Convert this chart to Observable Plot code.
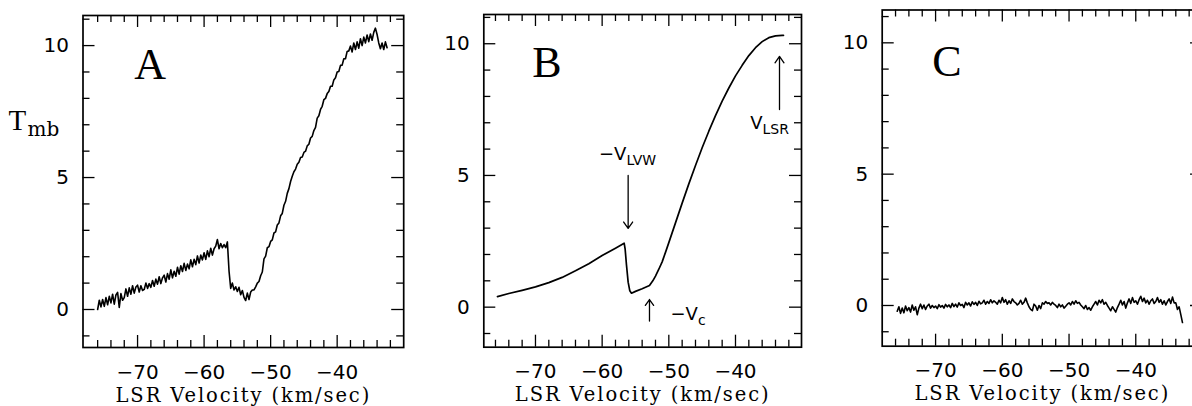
<!DOCTYPE html>
<html><head><meta charset="utf-8">
<script src="https://cdn.jsdelivr.net/npm/d3@7"></script>
<script src="https://cdn.jsdelivr.net/npm/@observablehq/plot@0.6"></script>
<style>
html,body{margin:0;padding:0;background:#fff;}
#wrap{position:relative;width:1192px;height:406px;overflow:hidden;background:#fff;}
</style></head><body><div id="wrap"></div>
<script>
// ---------------- DATA ----------------
// Panel A: observed spectrum, channels every 0.25 km/s starting at -76.0
const obsStartA = -76.0;
const obsStepA = 0.25;
const tmbA = [
  0.00,0.35,0.10,0.38, 0.12,0.45,0.18,0.50, 0.25,0.58,0.20,0.55, 0.65,0.08,0.60,0.35,
  0.45,0.78,0.50,0.82, 0.58,0.90,0.62,0.85, 0.92,0.66,0.90,0.72, 0.76,1.00,0.80,0.98,
  0.84,1.10,0.88,1.15, 0.96,1.24,0.98,1.20, 1.30,1.04,1.36,1.15, 1.50,1.20,1.45,1.26,
  1.60,1.34,1.66,1.44, 1.75,1.48,1.72,1.54, 1.88,1.62,1.90,1.70, 2.03,1.76,2.06,1.88,
  2.15,1.90,2.22,2.00, 2.32,2.06,2.30,2.40, 2.65,2.30,2.50,2.34, 2.46,2.34,2.56,1.45,
  0.80,1.00,0.74,0.86, 0.68,0.84,0.56,0.72, 0.46,0.34,0.62,0.38, 0.66,0.74,0.74,0.86,
  1.00,1.06,1.28,1.42, 1.92,2.02,2.34,2.38, 2.58,2.64,2.90,2.94, 3.20,3.28,3.55,3.64,
  3.95,4.10,4.40,4.58, 4.85,5.05,5.22,5.32, 5.50,5.58,5.76,5.78, 5.95,6.00,6.20,6.26,
  6.50,6.56,6.78,6.90, 7.25,7.34,7.58,7.70, 7.95,8.00,8.18,8.26, 8.46,8.46,8.70,8.78,
  9.00,9.02,9.25,9.26, 9.50,9.50,9.78,9.80, 9.98,9.76,10.10,9.85, 10.14,9.90,10.26,10.00,
  10.32,10.10,10.40,10.15, 10.44,10.20,10.50,10.66, 10.42,10.10,9.88,10.10, 9.85,10.14,9.92
];

// Panel B: model spectrum (velocity, Tmb)
const modelVel = [-75.7,-74,-72,-70,-68,-66,-64,-62,-60,-58,-56.7,-56.55,-56.35,-56.1,-55.85,-55.6,-55,-54,-52.9,
  -52.4,-52,-51.5,-51,-50.5,-50,-49,-48,-47,-46,-45,-44,-43,-42,-41,-40,-39,-38,-37,-36,-35,-34,-33,-32.8];
const modelTmb = [0.40,0.52,0.64,0.77,0.93,1.13,1.38,1.65,1.96,2.24,2.43,2.20,1.60,0.95,0.62,0.53,0.60,0.70,0.82,
  1.00,1.18,1.44,1.72,2.08,2.45,3.20,3.95,4.68,5.38,6.05,6.68,7.27,7.82,8.32,8.78,9.18,9.55,9.85,10.08,10.23,10.30,10.32,10.32];

// Panel C: residual spectrum, channels every 0.25 km/s starting at -75.75
const obsStartC = -75.75;
const obsStepC = 0.25;
const tmbC = [
  -0.22,-0.05,-0.30, -0.10,-0.28,-0.02,-0.20, -0.08,-0.25,0.02,-0.18, -0.05,-0.35,-0.10,0.05,
  -0.12,0.02,-0.15,-0.02, 0.05,-0.10,0.00,-0.08, -0.02,-0.12,0.03,-0.06, 0.00,-0.10,0.04,-0.05,
  0.02,-0.08,0.08,-0.04, 0.05,-0.06,0.10,0.00, 0.04,-0.08,0.12,0.02, 0.10,-0.02,0.14,0.04,
  0.12,0.00,0.16,0.06, 0.10,0.20,0.05,0.15, 0.08,0.22,0.10,0.18, 0.12,0.05,0.20,0.10,
  0.30,0.12,0.22,0.05, 0.18,0.08,0.25,0.15, 0.10,0.02,0.08,0.20, 0.05,0.12,0.28,0.10,
  -0.05,-0.15,-0.20,0.05, -0.02,-0.18,0.00,-0.12, 0.10,0.05,0.15,0.08, 0.10,0.02,0.12,0.05,
  0.00,-0.08,0.05,-0.05, 0.02,-0.10,-0.03,0.05, 0.10,0.02,0.15,0.05, 0.18,0.08,0.12,0.02,
  -0.05,-0.12,0.00,-0.15, -0.08,-0.18,-0.05,0.05, 0.15,0.02,0.20,0.10, 0.22,0.05,0.12,0.00,
  -0.10,-0.20,-0.05,-0.15, -0.25,-0.08,0.05,0.20, 0.02,0.15,-0.10,0.10, 0.25,0.08,0.30,0.12,
  0.18,0.05,0.22,0.35, 0.15,0.28,0.10,0.20, 0.05,0.18,0.25,0.08, 0.15,0.30,0.12,0.22,
  0.05,0.18,0.02,0.15, 0.25,0.08,0.32,0.10, 0.10,-0.15,-0.05,-0.35, -0.65
];

const panelLetters = ["A", "B", "C"];
const xMajorTicks = [-70, -60, -50, -40];
const xMinorTicks = [-76,-74,-72,-68,-66,-64,-62,-58,-56,-54,-52,-48,-46,-44,-42,-38,-36,-34,-32];
const yMajorTicks = [0, 5, 10];
const yMinorTicks = [-1,1,2,3,4,6,7,8,9,11];
const xTitle = "LSR Velocity (km/sec)";
const yTitleMain = "T";
const yTitleSub = "mb";

// annotations of panel B
const arrowX = [-56.1, -33.4, -52.9];
const arrowFrom = [5.0, 7.5, -0.53];
const arrowTo = [2.99, 9.52, 0.29];
const noteMain = ["−V", "V", "−V"];
const noteSub = ["LVW", "LSR", "c"];
const noteX = [-56.36, -35.95, -45.64];
const noteY = [5.6, 6.78, -0.47];

// ---------------- BUILD ----------------
const obsA = tmbA.map((t, i) => ({v: obsStartA + i * obsStepA, t}));
const modB = modelVel.map((v, i) => ({v, t: modelTmb[i]}));
const obsC = tmbC.map((t, i) => ({v: obsStartC + i * obsStepC, t}));
const arrowsB = arrowX.map((x, i) => ({x, y1: arrowFrom[i], y2: arrowTo[i]}));
const notesB = noteMain.map((m, i) => ({m, s: noteSub[i], x: noteX[i], y: noteY[i]}));

const H = 406;
const layouts = [
  {left: 0,   width: 420, frameL: 82.5,  frameR: 403.2, top: 15,  bottom: 347,   xDomain: [-78.2, -30.0], yDomain: [-1.44, 11.14]},
  {left: 420, width: 390, frameL: 483.3, frameR: 801,   top: 14,  bottom: 346.7, xDomain: [-77.75, -30.1], yDomain: [-1.52, 11.11]},
  {left: 810, width: 400, frameL: 881.7, frameR: 1202,  top: 9.5, bottom: 345.7, xDomain: [-78.0, -30.0], yDomain: [-1.55, 11.25]}
];

const serif = "'Liberation Serif', 'Times New Roman', serif";
const slab = "'DejaVu Serif', serif";
const sans = "'DejaVu Sans', sans-serif";

function panel(idx, extraMarks) {
  const L = layouts[idx];
  const marginLeft = L.frameL - L.left;
  const marginRight = L.left + L.width - L.frameR;
  const marginTop = L.top;
  const marginBottom = H - L.bottom;
  const fw = L.frameR - L.frameL;
  const fh = L.bottom - L.top;
  const majorLen = 12, minorLen = 7;
  const marks = [
    Plot.tickX(xMinorTicks, {x: d => d, insetTop: fh - minorLen, strokeWidth: 1.3}),
    Plot.tickX(xMinorTicks, {x: d => d, insetBottom: fh - minorLen, strokeWidth: 1.3}),
    Plot.tickX(xMajorTicks, {x: d => d, insetTop: fh - majorLen, strokeWidth: 1.3}),
    Plot.tickX(xMajorTicks, {x: d => d, insetBottom: fh - majorLen, strokeWidth: 1.3}),
    Plot.tickY(yMinorTicks, {y: d => d, insetRight: fw - minorLen, strokeWidth: 1.3}),
    Plot.tickY(yMinorTicks, {y: d => d, insetLeft: fw - minorLen, strokeWidth: 1.3}),
    Plot.tickY(yMajorTicks, {y: d => d, insetRight: fw - majorLen, strokeWidth: 1.3}),
    Plot.tickY(yMajorTicks, {y: d => d, insetLeft: fw - majorLen, strokeWidth: 1.3}),
    Plot.axisX(xMajorTicks, {anchor: "bottom", tickSize: 0, tickPadding: 17, label: null, fontSize: 20, fontFamily: sans}),
    Plot.axisY(yMajorTicks, {anchor: "left", tickSize: 0, tickPadding: 14, label: null, fontSize: 20, fontFamily: sans}),
    Plot.frame({strokeWidth: 1.7}),
    Plot.text([xTitle], {frameAnchor: "bottom", dy: 54, lineAnchor: "bottom", fontFamily: slab, fontSize: 19.5, text: d => d}),
    Plot.text([panelLetters[idx]], {x: -70.5, y: 8.73, text: d => d, textAnchor: "start", lineAnchor: "bottom", fontFamily: serif, fontSize: 44}),
    ...extraMarks
  ];
  const svg = Plot.plot({
    width: L.width, height: H,
    marginLeft, marginRight, marginTop, marginBottom,
    x: {domain: L.xDomain},
    y: {domain: L.yDomain},
    style: {fontFamily: sans, fontSize: "20px", color: "#000", background: "transparent", overflow: "visible"},
    marks
  });
  // typewriter-like spacing for the axis title
  svg.querySelectorAll("text").forEach(t => {
    if (t.textContent === xTitle) t.style.letterSpacing = "1.9px";
  });
  svg.style.position = "absolute";
  svg.style.left = L.left + "px";
  svg.style.top = "0px";
  document.getElementById("wrap").appendChild(svg);
}

panel(0, [
  Plot.line(obsA, {x: "v", y: "t", stroke: "#000", strokeWidth: 1.6}),
  Plot.text([yTitleMain], {frameAnchor: "top-left", dx: -74.5, dy: 114, text: d => d, textAnchor: "start", lineAnchor: "bottom", fontFamily: serif, fontSize: 29}),
  Plot.text([yTitleSub], {frameAnchor: "top-left", dx: -55.5, dy: 120, text: d => d, textAnchor: "start", lineAnchor: "bottom", fontFamily: slab, fontSize: 20})
]);

panel(1, [
  Plot.line(modB, {x: "v", y: "t", stroke: "#000", strokeWidth: 1.7}),
  Plot.arrow(arrowsB, {x1: "x", x2: "x", y1: "y1", y2: "y2", stroke: "#000", strokeWidth: 1.3, headAngle: 70, headLength: 9}),
  Plot.text(notesB, {x: "x", y: "y", text: "m", textAnchor: "end", lineAnchor: "bottom", fontSize: 18, fontFamily: sans}),
  Plot.text(notesB, {x: "x", y: "y", text: "s", textAnchor: "start", lineAnchor: "bottom", dy: 5, fontSize: 14, fontFamily: sans})
]);

panel(2, [
  Plot.line(obsC, {x: "v", y: "t", stroke: "#000", strokeWidth: 1.6})
]);
</script></body></html>
